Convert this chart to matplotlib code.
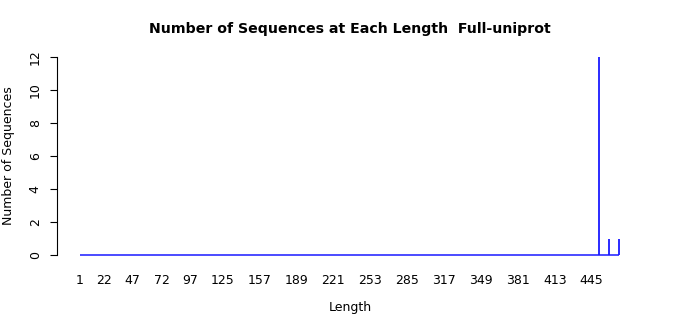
import numpy as np
import matplotlib
matplotlib.use("Agg")
import matplotlib.pyplot as plt

# dados
comprimentos = [451, 460, 469]
contagens = [12, 1, 1]
faixa_comprimento = [1, 469]
rotulos_x = [1, 22, 47, 72, 97, 125, 157, 189, 221, 253, 285, 317, 349, 381, 413, 445]
rotulos_y = [0, 2, 4, 6, 8, 10, 12]

fig = plt.figure(figsize=(7, 3.15), dpi=100)
ax = fig.add_axes([57 / 700, 60 / 315, 583 / 700, 198 / 315])

cor = '#1a1aff'
ax.hlines(0, faixa_comprimento[0], faixa_comprimento[1], color=cor, lw=1.1, clip_on=False)
ax.vlines(comprimentos, 0, contagens, color=cor, lw=1.3, clip_on=False)

ax.set_xlim(-18.7, 486.9)
ax.set_ylim(0, 12)

for s in ['top', 'right', 'bottom']:
    ax.spines[s].set_visible(False)
ax.spines['left'].set_bounds(0, 12)
ax.spines['left'].set_linewidth(0.8)

ax.set_xticks(rotulos_x)
ax.set_xticklabels([str(v) for v in rotulos_x])
ax.tick_params(axis='x', length=0, pad=14, labelsize=9)
ax.set_yticks(rotulos_y)
ax.set_yticklabels([str(v) for v in rotulos_y], rotation=90, va='center')
ax.tick_params(axis='y', length=5, width=0.8, pad=6, labelsize=9)

fig.text(350 / 700, 1 - 307 / 315, 'Length', ha='center', va='center', fontsize=9)
fig.text(9 / 700, 1 - 156 / 315, 'Number of Sequences', ha='center', va='center',
         rotation=90, fontsize=9)
fig.text(350 / 700, 1 - 29 / 315, 'Number of Sequences at Each Length  Full-uniprot',
         ha='center', va='center', fontsize=10.2, fontweight='bold')

plt.savefig('out.png', dpi=100)
